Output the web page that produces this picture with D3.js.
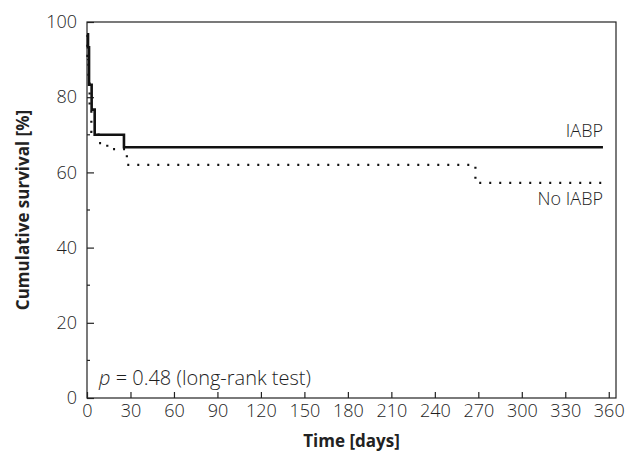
<!DOCTYPE html>
<html>
<head>
<meta charset="utf-8">
<script src="https://cdnjs.cloudflare.com/ajax/libs/d3/7.8.5/d3.min.js"></script>
<style>
  body { margin: 0; background: #fff; }
  text { font-family: "Open Sans", sans-serif; }
</style>
</head>
<body>
<div id="chart"></div>
<script>
// step curves: survival[i] holds from time[i] to time[i+1]
const iabpTime = [0, 0.7, 1.4, 3.2, 5.3, 25.5, 356];
const iabpSurv = [96.7, 93.3, 83.3, 76.7, 70.0, 66.7, 66.7];

const noIabpTime = [0, 0.3, 1.0, 1.8, 3.0, 8.0, 14.0, 27.5, 268, 356];
const noIabpSurv = [96.5, 91.0, 84.0, 77.0, 70.8, 67.8, 66.2, 62.0, 57.2, 57.2];

const xTicks = [0, 30, 60, 90, 120, 150, 180, 210, 240, 270, 300, 330, 360];
const yTicks = [0, 20, 40, 60, 80, 100];
const yMinorTicks = [10, 30, 50, 70, 90];

const W = 628, H = 452;
const margin = { top: 22, right: 12, bottom: 54, left: 87 };
const width = W - margin.left - margin.right;
const height = H - margin.top - margin.bottom;
const ink = "#222";
const labelInk = "#1e1e1e";

const svg = d3.select("#chart").append("svg")
    .attr("width", W)
    .attr("height", H);

const g = svg.append("g")
    .attr("transform", `translate(${margin.left},${margin.top})`);

const x = d3.scaleLinear().domain([0, 365]).range([0, width]);
const y = d3.scaleLinear().domain([0, 100]).range([height, 0]);

// frame
g.append("rect")
    .attr("x", 0).attr("y", 0)
    .attr("width", width).attr("height", height)
    .attr("fill", "none")
    .attr("stroke", ink)
    .attr("stroke-width", 1.2);

// x axis, ticks point inward
const xAxis = g.append("g")
    .attr("transform", `translate(0,${height})`)
    .call(d3.axisBottom(x).tickValues(xTicks).tickSize(-6).tickPadding(4));
xAxis.select(".domain").remove();
xAxis.selectAll("line").attr("stroke", ink).attr("stroke-width", 1.2);
xAxis.selectAll("text")
    .style("font-size", "18px")
    .style("font-weight", "300")
    .style("font-family", "'Open Sans', sans-serif")
    .attr("fill", labelInk)
    .attr("dy", "0.85em");

// y axis
const yAxis = g.append("g")
    .call(d3.axisLeft(y).tickValues(yTicks).tickSize(-7).tickPadding(10));
yAxis.select(".domain").remove();
yAxis.selectAll("line").attr("stroke", ink).attr("stroke-width", 1.2);
yAxis.selectAll("text")
    .style("font-size", "18px")
    .style("font-weight", "300")
    .style("font-family", "'Open Sans', sans-serif")
    .attr("fill", labelInk);

g.append("g")
    .selectAll("line")
    .data(yMinorTicks)
    .enter().append("line")
    .attr("x1", 0).attr("x2", 3)
    .attr("y1", d => y(d)).attr("y2", d => y(d))
    .attr("stroke", ink)
    .attr("stroke-width", 1.2);

// curves
const line = d3.line()
    .x(d => x(d[0]))
    .y(d => y(d[1]))
    .curve(d3.curveStepAfter);

const iabpData = iabpTime.map((t, i) => [t, iabpSurv[i]]);
const noIabpData = noIabpTime.map((t, i) => [t, noIabpSurv[i]]);

g.append("path")
    .datum(noIabpData)
    .attr("fill", "none")
    .attr("stroke", "#111")
    .attr("stroke-width", 2.2)
    .attr("stroke-dasharray", "2,8")
    .attr("d", line);

g.append("path")
    .datum(iabpData)
    .attr("fill", "none")
    .attr("stroke", "#111")
    .attr("stroke-width", 2.6)
    .attr("d", line);

// series labels
g.append("text")
    .attr("x", x(356))
    .attr("y", y(66.7) - 10)
    .attr("text-anchor", "end")
    .style("font-size", "18px")
    .style("font-weight", "300")
    .attr("fill", labelInk)
    .text("IABP");

g.append("text")
    .attr("x", x(356))
    .attr("y", y(57.2) + 22)
    .attr("text-anchor", "end")
    .style("font-size", "18px")
    .style("font-weight", "300")
    .attr("fill", labelInk)
    .text("No IABP");

// p-value note
const note = g.append("text")
    .attr("x", 12)
    .attr("y", height - 13)
    .style("font-size", "20px")
    .style("font-weight", "300")
    .attr("fill", labelInk);
note.append("tspan").style("font-style", "italic").text("p");
note.append("tspan").text(" = 0.48 (long-rank test)");

// axis titles
svg.append("text")
    .attr("x", margin.left + width / 2)
    .attr("y", H - 5)
    .attr("text-anchor", "middle")
    .style("font-size", "17px")
    .style("font-weight", "bold")
    .attr("fill", "#222")
    .text("Time [days]");

svg.append("text")
    .attr("transform", `translate(29,${margin.top + height / 2}) rotate(-90)`)
    .attr("text-anchor", "middle")
    .style("font-size", "17px")
    .style("font-weight", "bold")
    .attr("fill", "#222")
    .text("Cumulative survival [%]");
</script>
</body>
</html>
